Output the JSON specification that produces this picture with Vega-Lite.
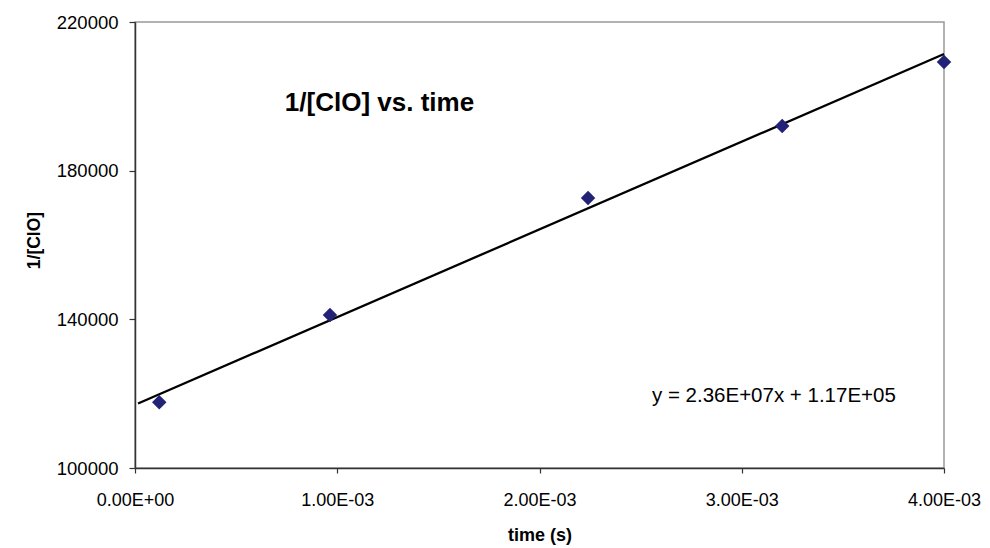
{
  "$schema": "https://vega.github.io/schema/vega-lite/v6.json",
  "width": 809,
  "height": 446,
  "autosize": "none",
  "padding": {"left": 135, "top": 22, "right": 46, "bottom": 80},
  "background": "white",
  "config": {
    "view": {"stroke": "#999999", "strokeWidth": 1.5},
    "font": "Liberation Sans"
  },
  "datasets": {
    "points": [
      {"t": 0.00012, "inv": 117700},
      {"t": 0.000964, "inv": 141170},
      {"t": 0.00224, "inv": 172650},
      {"t": 0.0032, "inv": 192020},
      {"t": 0.004, "inv": 209240}
    ],
    "trend": [
      {"t": 0.000015, "inv": 117350},
      {"t": 0.004, "inv": 211400}
    ],
    "notes": [
      {"t": 0.000741, "inv": 196000, "label": "1/[ClO] vs. time", "kind": "title"},
      {"t": 0.002556, "inv": 117840, "label": "y = 2.36E+07x + 1.17E+05", "kind": "eq"}
    ]
  },
  "layer": [
    {
      "data": {"name": "trend"},
      "mark": {"type": "line", "color": "black", "strokeWidth": 2.3},
      "encoding": {
        "x": {
          "field": "t", "type": "quantitative",
          "scale": {"domain": [0, 0.004], "nice": false, "zero": false},
          "axis": {
            "values": [0, 0.001, 0.002, 0.003, 0.004],
            "labelExpr": "['0.00E+00','1.00E-03','2.00E-03','3.00E-03','4.00E-03'][round(datum.value*1000)]",
            "grid": false, "labelFlush": false, "labelOverlap": false,
            "domainColor": "#333333", "domainWidth": 1.5,
            "tickColor": "#333333", "tickWidth": 1.2, "tickSize": 5,
            "labelFont": "Liberation Sans", "labelFontSize": 18, "labelColor": "black",
            "labelPadding": 18,
            "title": "time (s)",
            "titleFont": "Liberation Sans", "titleFontSize": 18, "titleFontWeight": "bold", "titleColor": "black",
            "titleBaseline": "alphabetic", "titleY": 72
          }
        },
        "y": {
          "field": "inv", "type": "quantitative",
          "scale": {"domain": [100000, 220000], "nice": false, "zero": false},
          "axis": {
            "values": [100000, 140000, 180000, 220000],
            "format": "d",
            "grid": false, "labelFlush": false, "labelOverlap": false,
            "domainColor": "#333333", "domainWidth": 1.5,
            "tickColor": "#333333", "tickWidth": 1.2, "tickSize": 6,
            "labelFont": "Liberation Sans", "labelFontSize": 18.5, "labelColor": "black",
            "labelPadding": 11,
            "title": "1/[ClO]",
            "titleFont": "Liberation Sans", "titleFontSize": 17.5, "titleFontWeight": "bold", "titleColor": "black",
            "titleX": -96, "titleY": 218, "titleAngle": -90, "titleBaseline": "alphabetic", "titleAlign": "center"
          }
        }
      }
    },
    {
      "data": {"name": "points"},
      "mark": {"type": "point", "shape": "diamond", "filled": true, "color": "#222277", "size": 210, "opacity": 1},
      "encoding": {
        "x": {"field": "t", "type": "quantitative"},
        "y": {"field": "inv", "type": "quantitative"}
      }
    },
    {
      "data": {"name": "notes"},
      "transform": [{"filter": "datum.kind == 'title'"}],
      "mark": {"type": "text", "align": "left", "baseline": "alphabetic", "font": "Liberation Sans", "fontSize": 26, "fontWeight": "bold", "color": "black"},
      "encoding": {
        "x": {"field": "t", "type": "quantitative"},
        "y": {"field": "inv", "type": "quantitative"},
        "text": {"field": "label"}
      }
    },
    {
      "data": {"name": "notes"},
      "transform": [{"filter": "datum.kind == 'eq'"}],
      "mark": {"type": "text", "align": "left", "baseline": "alphabetic", "font": "Liberation Sans", "fontSize": 20.5, "color": "black"},
      "encoding": {
        "x": {"field": "t", "type": "quantitative"},
        "y": {"field": "inv", "type": "quantitative"},
        "text": {"field": "label"}
      }
    }
  ]
}
